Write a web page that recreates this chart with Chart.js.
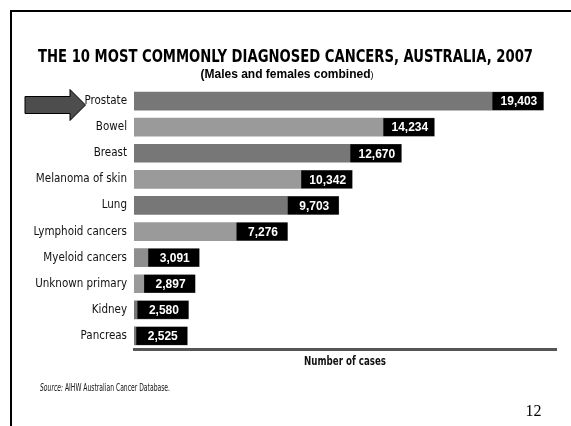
<!DOCTYPE html>
<html>
<head>
<meta charset="utf-8">
<script src="https://cdn.jsdelivr.net/npm/chart.js@4/dist/chart.umd.min.js"></script>
<style>
  html, body { margin: 0; padding: 0; background: #fff; }
  #wrap { width: 571px; height: 426px; position: relative; }
</style>
</head>
<body>
<div id="wrap"><canvas id="c" width="571" height="426"></canvas></div>
<script>
const categories = ["Prostate", "Bowel", "Breast", "Melanoma of skin", "Lung", "Lymphoid cancers", "Myeloid cancers", "Unknown primary", "Kidney", "Pancreas"];
const cases = [19403, 14234, 12670, 10342, 9703, 7276, 3091, 2897, 2580, 2525];
const barColors = ["#777777", "#9a9a9a", "#777777", "#9a9a9a", "#777777", "#9a9a9a", "#8e8e8e", "#9a9a9a", "#777777", "#777777"];
const titleText = "THE 10 MOST COMMONLY DIAGNOSED CANCERS, AUSTRALIA, 2007";
const subtitleText = "(Males and females combined";
const axisTitle = "Number of cases";
const sourceLabel = "Source:";
const sourceText = " AIHW Australian Cancer Database.";
const pageNumber = "12";

const NARROW = "'Liberation Sans Narrow', 'DejaVu Sans Condensed', sans-serif";

function squeezedText(ctx, text, x, y, width, align) {
  const w = ctx.measureText(text).width;
  const s = Math.min(1, width / w);
  ctx.save();
  ctx.translate(x, y);
  ctx.scale(s, 1);
  ctx.textAlign = align;
  ctx.fillText(text, 0, 0);
  ctx.restore();
  return w * s;
}

const decor = {
  id: 'decor',
  beforeDraw(chart) {
    const ctx = chart.ctx;
    ctx.save();
    ctx.fillStyle = '#fff';
    ctx.fillRect(0, 0, chart.width, chart.height);
    ctx.fillStyle = '#000';
    ctx.fillRect(10, 10, chart.width - 10, 2);
    ctx.fillRect(10, 10, 2, chart.height - 10);
    ctx.restore();
  },
  afterDraw(chart) {
    const ctx = chart.ctx;
    const area = chart.chartArea;
    ctx.save();
    ctx.fillStyle = '#000';
    ctx.textBaseline = 'middle';
    ctx.font = `bold 18px ${NARROW}`;
    squeezedText(ctx, titleText, 285.5, 57.5, 495, 'center');
    ctx.font = "bold 12px 'Liberation Sans', Arial, sans-serif";
    const sw = ctx.measureText(subtitleText).width;
    ctx.font = "9px 'Liberation Sans', Arial, sans-serif";
    const pw = ctx.measureText(")").width;
    const sx = 287 - (sw + pw) / 2;
    ctx.textAlign = 'left';
    ctx.font = "bold 12px 'Liberation Sans', Arial, sans-serif";
    ctx.fillText(subtitleText, sx, 75);
    ctx.font = "9px 'Liberation Sans', Arial, sans-serif";
    ctx.fillText(")", sx + sw, 76);
    // arrow
    ctx.beginPath();
    ctx.moveTo(25, 96.5);
    ctx.lineTo(70, 96.5);
    ctx.lineTo(70, 89.5);
    ctx.lineTo(85.5, 105);
    ctx.lineTo(70, 120.5);
    ctx.lineTo(70, 113.5);
    ctx.lineTo(25, 113.5);
    ctx.closePath();
    ctx.fillStyle = '#4d4d4d';
    ctx.fill();
    ctx.strokeStyle = '#000';
    ctx.lineWidth = 1;
    ctx.stroke();
    // axis title
    ctx.fillStyle = '#111';
    ctx.font = `bold 12px ${NARROW}`;
    squeezedText(ctx, axisTitle, (area.left + area.right) / 2, 362, 82, 'center');
    // source
    ctx.font = `italic 10px ${NARROW}`;
    const fw = ctx.measureText(sourceLabel).width;
    ctx.font = `10px ${NARROW}`;
    const rw = ctx.measureText(sourceText).width;
    const s = 130 / (fw + rw);
    ctx.save();
    ctx.translate(40, 388);
    ctx.scale(s, 1);
    ctx.textAlign = 'left';
    ctx.font = `italic 10px ${NARROW}`;
    ctx.fillText(sourceLabel, 0, 0);
    ctx.font = `10px ${NARROW}`;
    ctx.fillText(sourceText, fw, 0);
    ctx.restore();
    // page number
    ctx.textAlign = 'center';
    ctx.textBaseline = 'alphabetic';
    ctx.fillStyle = '#000';
    ctx.font = "16px 'Liberation Serif', 'Times New Roman', serif";
    ctx.fillText(pageNumber, 533.5, 416);
    ctx.restore();
  }
};

const valueBoxes = {
  id: 'valueBoxes',
  afterDatasetsDraw(chart) {
    const ctx = chart.ctx;
    const meta = chart.getDatasetMeta(0);
    ctx.save();
    meta.data.forEach((bar, i) => {
      const h = bar.height;
      const right = bar.x;
      const left = right - 51;
      ctx.fillStyle = '#000';
      ctx.fillRect(left, bar.y - h / 2, right - left, h);
      ctx.fillStyle = '#fff';
      ctx.font = "bold 12px 'Liberation Sans', Arial, sans-serif";
      ctx.textAlign = 'center';
      ctx.textBaseline = 'middle';
      ctx.fillText(cases[i].toLocaleString('en-US'), (left + right) / 2 + 1, bar.y + 1);
    });
    ctx.restore();
  }
};

new Chart(document.getElementById('c'), {
  type: 'bar',
  data: {
    labels: categories,
    datasets: [{
      data: cases,
      backgroundColor: barColors,
      borderWidth: 0,
      barThickness: 18,
      categoryPercentage: 1,
      barPercentage: 1
    }]
  },
  options: {
    indexAxis: 'y',
    responsive: false,
    animation: false,
    devicePixelRatio: 1,
    layout: { padding: { top: 88, right: 15, bottom: 75, left: 0 } },
    plugins: {
      legend: { display: false },
      tooltip: { enabled: false },
      title: { display: false }
    },
    scales: {
      x: {
        min: 0,
        max: 20000,
        grid: { display: false, drawTicks: false },
        border: { display: true, color: '#555', width: 3 },
        ticks: { display: false },
        afterFit(scale) { scale.height = 2; }
      },
      y: {
        grid: { display: false, drawTicks: false },
        border: { display: false },
        ticks: {
          color: '#111',
          padding: 7,
          font: { family: NARROW, size: 11.5 }
        },
        afterFit(scale) { scale.width = 134; }
      }
    }
  },
  plugins: [decor, valueBoxes]
});
</script>
</body>
</html>
